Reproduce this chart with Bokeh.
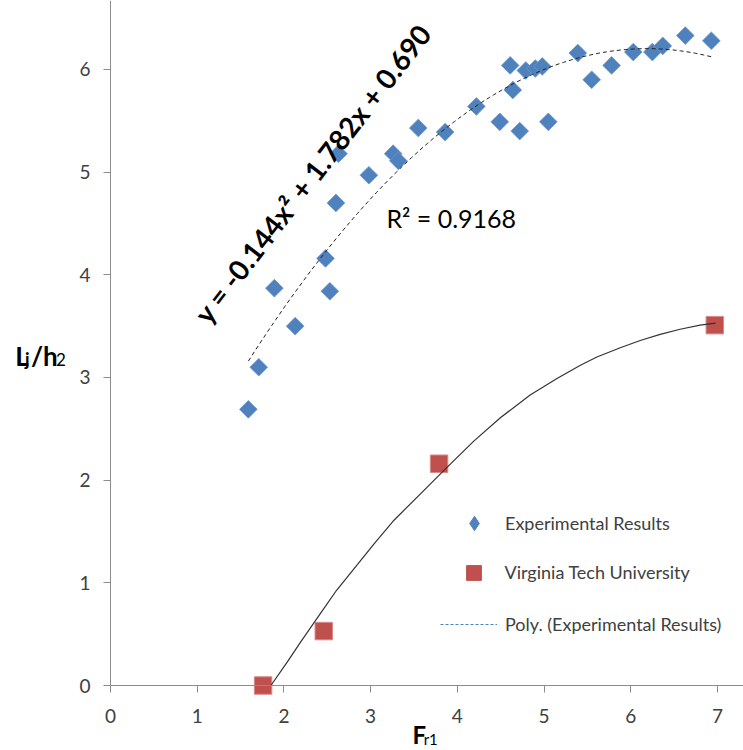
import math
import numpy as np
from bokeh.plotting import figure
from bokeh.models import Range1d, FixedTicker, Label, Legend, LegendItem
from bokeh.embed import file_html
from bokeh.resources import INLINE

# ---- data ----
exp_x = [1.59, 1.71, 1.89, 2.13, 2.48, 2.53, 2.60, 2.63, 2.98, 3.26,
         3.32, 3.55, 3.86, 4.22, 4.49, 4.61, 4.64, 4.72, 4.79, 4.90,
         4.98, 5.05, 5.39, 5.55, 5.78, 6.03, 6.25, 6.37, 6.63, 6.93]
exp_y = [2.69, 3.10, 3.87, 3.50, 4.16, 3.84, 4.70, 5.18, 4.97, 5.18,
         5.11, 5.43, 5.39, 5.64, 5.49, 6.04, 5.80, 5.40, 5.99, 6.01,
         6.03, 5.49, 6.16, 5.90, 6.04, 6.17, 6.17, 6.23, 6.33, 6.28]

vt_x = [1.76, 2.46, 3.79, 6.97]
vt_y = [0.00, 0.53, 2.16, 3.51]

# black solid curve through the Virginia Tech results
vt_curve_x = [1.85, 2.04, 2.19, 2.42, 2.61, 3.04, 3.27, 3.65, 3.84, 4.19,
              4.50, 4.84, 5.15, 5.42, 5.61, 5.88, 6.11, 6.34, 6.57, 6.80, 6.98]
vt_curve_y = [0.00, 0.23, 0.42, 0.70, 0.93, 1.38, 1.61, 1.93, 2.09, 2.38,
              2.61, 2.83, 2.99, 3.12, 3.20, 3.29, 3.36, 3.42, 3.47, 3.51, 3.53]

# polynomial trend line shown on the chart: y = a x^2 + b x + c
poly_coef = [-0.144, 1.782, 0.690]
r_squared = 0.9168

x_ticks = [0, 1, 2, 3, 4, 5, 6, 7]
y_ticks = [0, 1, 2, 3, 4, 5, 6]

BLUE = "#4F81BD"
RED = "#C0504D"
TXT = "#404040"
AX = "#8c8c8c"
FONT = "Lato"

# the frame covers the whole canvas; axes sit at x=0 / y=0
p = figure(width=743, height=750, output_backend="svg", toolbar_location=None,
           x_range=Range1d(-1.2687, 7.301), y_range=Range1d(-0.6331, 6.672),
           min_border=0)
p.outline_line_color = None
p.grid.visible = False
p.background_fill_color = "white"
p.border_fill_color = "white"

for ax, ticks in ((p.xaxis, x_ticks), (p.yaxis, y_ticks)):
    ax.ticker = FixedTicker(ticks=ticks)
    ax.fixed_location = 0
    ax.axis_line_color = AX
    ax.axis_line_width = 1
    ax.major_tick_line_color = AX
    ax.major_tick_out = 7
    ax.major_tick_in = 0
    ax.minor_tick_line_color = None
    ax.major_label_text_font = FONT
    ax.major_label_text_font_size = "19px"
    ax.major_label_text_color = TXT
p.xaxis.bounds = (0, 7.301)
p.yaxis.bounds = (0, 6.672)
p.xaxis.major_label_standoff = 16
p.yaxis.major_label_standoff = 13

# markers
p.scatter(exp_x, exp_y, marker="square", angle=math.pi / 4, size=12.5,
          fill_color=BLUE, line_color="#6a96cc", line_width=0.8)
p.scatter(vt_x, vt_y, marker="square", size=17.5,
          fill_color=RED, line_color="#d98b88", line_width=1)

# lines on top
a, b, c = poly_coef
tx = np.linspace(min(exp_x), max(exp_x), 120)
ty = a * tx ** 2 + b * tx + c
p.line(tx, ty, line_color="#222222", line_width=1, line_dash="4 3")
p.line(vt_curve_x, vt_curve_y, line_color="#333333", line_width=1.2)

# legend glyph renderers (hidden in the plot, only used for legend styling)
r_l1 = p.scatter(exp_x, exp_y, marker="diamond", fill_color=BLUE, line_color=BLUE,
                 visible=False)
r_l2 = p.scatter(vt_x, vt_y, marker="square", fill_color=RED, line_color=RED,
                 visible=False)
r_l3 = p.line(tx, ty, line_color=BLUE, line_width=1, line_dash="3 2", visible=False)

def make_legend(label, rend, loc, gw, gh, standoff):
    return Legend(items=[LegendItem(label=label, renderers=[rend])],
                  location=loc, glyph_width=gw, glyph_height=gh,
                  label_standoff=standoff, padding=0, margin=0, spacing=0,
                  border_line_alpha=0, background_fill_alpha=0,
                  inactive_fill_alpha=0,
                  label_text_font=FONT, label_text_font_size="18px",
                  label_text_color=TXT)

p.add_layout(make_legend("Experimental Results", r_l1, (456, 209), 36, 36, 13))
p.add_layout(make_legend("Virginia Tech University", r_l2, (454.5, 159.5), 37, 37, 13))
p.add_layout(make_legend("Poly. (Experimental Results)", r_l3, (440, 115), 57, 20, 8))

# equation and R^2
eq_text = f"y = {a:.3f}x\u00b2 + {b:.3f}x + {c:.3f}"
p.add_layout(Label(x=2.33, y=4.99, text=eq_text, angle=52.4, angle_units="deg",
                   text_align="center", text_baseline="middle",
                   text_font=FONT, text_font_style="bold", text_font_size="28px",
                   text_color="black"))
p.add_layout(Label(x=3.93, y=4.553, text=f"R\u00b2 = {r_squared:.4f}",
                   text_align="center", text_baseline="middle",
                   text_font=FONT, text_font_size="25px", text_color="black"))

# axis titles with subscripts
def lab(x, y, t, size, bold=True):
    p.add_layout(Label(x=x, y=y, text=t, text_align="left", text_baseline="middle",
                       text_font=FONT, text_font_style="bold" if bold else "normal",
                       text_font_size=size, text_color="black"))

lab(-1.100, 3.214, "L", "26px")
lab(-0.985, 3.185, "j", "18px")
lab(-0.918, 3.214, "/h", "26px")
lab(-0.628, 3.171, "2", "17px", bold=False)

lab(3.483, -0.477, "F", "24px")
lab(3.612, -0.518, "r1", "15px", bold=False)

open("out.html", "w").write(file_html(p, INLINE))
